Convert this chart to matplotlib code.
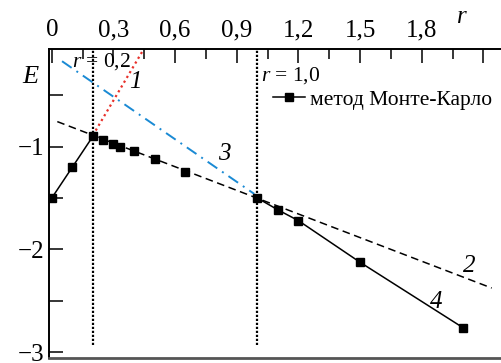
import matplotlib
matplotlib.use("Agg")
import matplotlib.pyplot as plt
from matplotlib.ticker import MultipleLocator, FuncFormatter

plt.rcParams['font.family'] = ['Liberation Serif', 'DejaVu Serif']
plt.rcParams['mathtext.fontset'] = 'custom'
plt.rcParams['mathtext.rm'] = 'Liberation Serif'
plt.rcParams['mathtext.it'] = 'Liberation Serif:italic'
plt.rcParams['axes.unicode_minus'] = True

# Monte Carlo points
mc_r = [0.0, 0.1, 0.2, 0.25, 0.30, 0.33, 0.40, 0.50, 0.65, 1.0, 1.1, 1.2, 1.5, 2.0]
mc_E = [-1.5, -1.2, -0.9, -0.94, -0.97, -1.0, -1.045, -1.12, -1.245, -1.5, -1.615, -1.72, -2.125, -2.76]

# curve 1 (red dotted)
c1_r = [0.2, 0.445]
c1_E = [-0.89, -0.06]
# curve 2 (dashed)
c2_r = [0.027, 2.14]
c2_E = [-0.757, -2.375]
# curve 3 (blue dash-dot)
c3_r = [0.05, 0.985]
c3_E = [-0.17, -1.46]

fig = plt.figure(figsize=(5.02, 3.63), dpi=100)
ax = fig.add_axes([0.0986, 0.0138, 0.9014, 0.8504])

ax.plot(c1_r, c1_E, color='#e8302a', ls=(0, (1, 1.5)), lw=1.6)
ax.plot(c3_r, c3_E, color='#1a8ad4', ls=(0, (6, 3, 1, 3)), lw=1.4)
ax.plot(c2_r, c2_E, color='black', ls=(0, (5, 3)), lw=1.1)

ax.plot(mc_r[:3], mc_E[:3], color='black', lw=1.1)
ax.plot(mc_r[9:], mc_E[9:], color='black', lw=1.1)
ax.plot(mc_r, mc_E, ls='none', marker='s', ms=6, color='black')
h, = ax.plot([], [], color='black', lw=1.1, marker='s', ms=6)
ax.legend([h], ['метод Монте-Карло'], loc='center left', bbox_to_anchor=(0.494, 0.836),
          frameon=False, fontsize=15.5, handlelength=1.5, handletextpad=0.2,
          borderaxespad=0, borderpad=0)

for xv in [0.2, 1.0]:
    ax.plot([xv, xv], [-2.93, -0.055], color='black', ls=(0, (1, 0.8)), lw=1.6)

ax.text(0.1, -0.17, r'$r$ = 0,2', fontsize=15.5, ha='left', va='center')
ax.text(1.02, -0.31, r'$r$ = 1,0', fontsize=15.5, ha='left', va='center')
ax.text(0.405, -0.37, '1', fontsize=18, style='italic', ha='center', va='center')
ax.text(0.84, -1.07, '3', fontsize=18, style='italic', ha='center', va='center')
ax.text(2.03, -2.16, '2', fontsize=18, style='italic', ha='center', va='center')
ax.text(1.87, -2.51, '4', fontsize=18, style='italic', ha='center', va='center')

ax.set_xlim(-0.011, 2.19)
ax.set_ylim(-3.055, -0.054)


def xfmt(v, p):
    if abs(v) < 1e-9:
        return '0'
    if v > 1.9:
        return ''
    return ('%.1f' % v).replace('.', ',')


ax.xaxis.tick_top()
ax.xaxis.set_major_locator(MultipleLocator(0.3))
ax.xaxis.set_minor_locator(MultipleLocator(0.15))
ax.xaxis.set_major_formatter(FuncFormatter(xfmt))
ax.yaxis.set_major_locator(MultipleLocator(1))
ax.yaxis.set_minor_locator(MultipleLocator(0.5))
ax.yaxis.set_major_formatter(FuncFormatter(lambda v, p: '\u2212%d' % abs(round(v))))
ax.tick_params(which='both', direction='in', labelsize=18, width=1.1)
ax.tick_params(axis='x', which='major', length=10, pad=6)
ax.tick_params(axis='x', which='minor', length=7)
ax.tick_params(axis='y', which='major', length=10, pad=4)
ax.tick_params(axis='y', which='minor', length=10)

ax.spines['right'].set_visible(False)
ax.spines['top'].set_linewidth(1.4)
ax.spines['left'].set_linewidth(1.4)
ax.spines['bottom'].set_linewidth(2)
ax.spines['bottom'].set_color('#555555')

fig.text(30 / 502, 1 - 77 / 363, 'E', fontsize=19, style='italic', ha='center', va='center')
fig.text(462 / 502, 1 - 17 / 363, 'r', fontsize=18, style='italic', ha='center', va='center')

fig.savefig('out.png', dpi=100)
